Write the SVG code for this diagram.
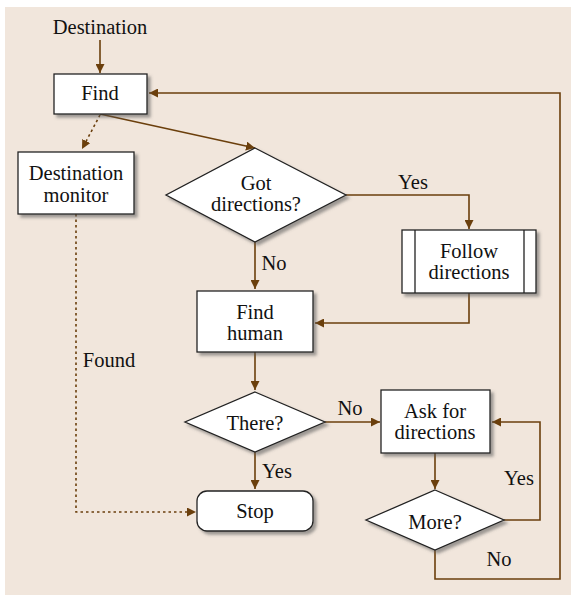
<svg xmlns="http://www.w3.org/2000/svg" width="576" height="601" viewBox="0 0 576 601">
<defs>
<style>
.n{fill:#fff;stroke:#222;stroke-width:1.3}
.t{font-family:"Liberation Serif","Times New Roman",serif;font-size:20.5px;fill:#111;text-anchor:middle}
.c{fill:none;stroke:#6b3f0c;stroke-width:1.6}
.d{stroke-dasharray:2.5 3}
</style>
<marker id="a" viewBox="0 0 10 10" refX="10" refY="5" markerWidth="9" markerHeight="9" markerUnits="userSpaceOnUse" orient="auto"><path d="M0,0L10,5L0,10z" fill="#6b3f0c"/></marker>
<filter id="s" x="-20%" y="-20%" width="140%" height="140%"><feDropShadow dx="3" dy="3" stdDeviation="1.5" flood-color="#555" flood-opacity="0.55"/></filter>
</defs>
<rect x="0" y="0" width="576" height="601" fill="#fff"/>
<rect x="5" y="7" width="566" height="588" fill="#f1e6dc"/>
<g id="connectors">
<path class="c" d="M100,40V73" marker-end="url(#a)"/>
<path class="c d" d="M100,115L82,149" marker-end="url(#a)"/>
<path class="c" d="M100,114L255,148" marker-end="url(#a)"/>
<path class="c" d="M346,195H469V229" marker-end="url(#a)"/>
<path class="c" d="M255,242V289" marker-end="url(#a)"/>
<path class="c" d="M469,293V323H315" marker-end="url(#a)"/>
<path class="c" d="M255,352V390" marker-end="url(#a)"/>
<path class="c" d="M255,452V489" marker-end="url(#a)"/>
<path class="c" d="M325,422H380" marker-end="url(#a)"/>
<path class="c" d="M435,453V489" marker-end="url(#a)"/>
<path class="c" d="M504,520H540V422H492" marker-end="url(#a)"/>
<path class="c" d="M435,550V579H560V93H149" marker-end="url(#a)"/>
<path class="c d" d="M76,214V512H196" marker-end="url(#a)"/>
<text class="t" x="100" y="34">Destination</text>
<text class="t" x="413" y="189">Yes</text>
<text class="t" x="274" y="270">No</text>
<text class="t" x="109" y="367">Found</text>
<text class="t" x="350" y="415">No</text>
<text class="t" x="277" y="478">Yes</text>
<text class="t" x="519" y="485">Yes</text>
<text class="t" x="499" y="566">No</text>
</g>
<g id="find"><rect class="n" x="54" y="74" width="93" height="40" filter="url(#s)"/><text class="t" x="100" y="100">Find</text></g>
<g id="monitor"><rect class="n" x="18" y="152" width="116" height="62" filter="url(#s)"/><text class="t" x="76" y="180">Destination</text><text class="t" x="76" y="202">monitor</text></g>
<g id="got"><polygon class="n" points="255,148 346,195 255,242 166,195" filter="url(#s)"/><text class="t" x="256" y="190">Got</text><text class="t" x="256" y="211">directions?</text></g>
<g id="follow"><rect class="n" x="402" y="230" width="134" height="63" filter="url(#s)"/><path class="n" d="M415,230V293M524,230V293"/><text class="t" x="469" y="258">Follow</text><text class="t" x="469" y="279">directions</text></g>
<g id="human"><rect class="n" x="197" y="291" width="116" height="61" filter="url(#s)"/><text class="t" x="255" y="319">Find</text><text class="t" x="255" y="340">human</text></g>
<g id="there"><polygon class="n" points="255,392 325,422 255,452 185,422" filter="url(#s)"/><text class="t" x="255" y="430">There?</text></g>
<g id="stop"><rect class="n" x="197" y="491" width="116" height="40" rx="10" filter="url(#s)"/><text class="t" x="255" y="518">Stop</text></g>
<g id="ask"><rect class="n" x="381" y="390" width="109" height="63" filter="url(#s)"/><text class="t" x="435" y="418">Ask for</text><text class="t" x="435" y="439">directions</text></g>
<g id="more"><polygon class="n" points="435,490 504,520 435,550 366,520" filter="url(#s)"/><text class="t" x="435" y="529">More?</text></g>
</svg>
